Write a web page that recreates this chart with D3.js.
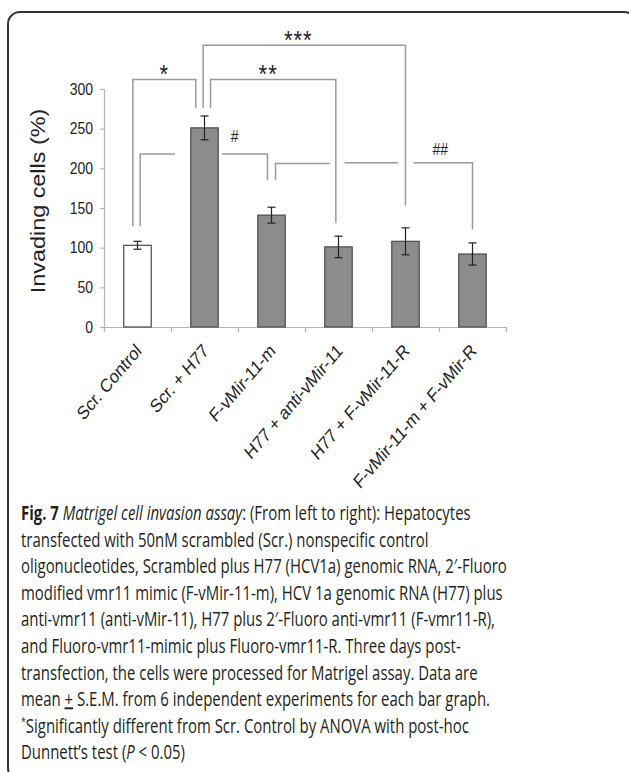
<!DOCTYPE html>
<html>
<head>
<meta charset="utf-8">
<script src="https://cdn.jsdelivr.net/npm/d3@7"></script>
<style>
  body { margin: 0; background: #fff; }
  svg { display: block; }
</style>
</head>
<body>
<script>
// data
var categories = ["Scr. Control", "Scr. + H77", "F-vMir-11-m", "H77 + anti-vMir-11", "H77 + F-vMir-11-R", "F-vMir-11-m + F-vMir-R"];
var means = [103, 251, 141, 101, 108, 92];
var sems = [5, 15, 10, 13.5, 17, 14];
var yTicks = [0, 50, 100, 150, 200, 250, 300];

// significance brackets: [category index, offset within band, value]
var brackets = [
  [[0, -0.07, 127], [0, -0.07, 312], [1, -0.13, 312], [1, -0.13, 276]],
  [[1, 0.09, 276], [1, 0.09, 312], [3, -0.04, 312], [3, -0.04, 131]],
  [[1, -0.02, 276], [1, -0.02, 355], [4, 0, 355], [4, 0, 153]],
  [[0, 0.04, 127], [0, 0.04, 218], [0, 0.56, 218]],
  [[1, 0.26, 218], [2, -0.06, 218], [2, -0.06, 185]],
  [[2, 0.06, 185], [2, 0.06, 206], [3, -0.13, 206]],
  [[3, 0.09, 207], [4, -0.11, 207]],
  [[4, 0.12, 207], [5, 0, 207], [5, 0, 123]]
];
var marks = [
  {text: "*", cat: 0, off: 0.4, v: 312, size: 22},
  {text: "**", cat: 1, off: 0.95, v: 312, size: 22},
  {text: "***", cat: 2, off: 0.4, v: 355, size: 22},
  {text: "#", cat: 1, off: 0.45, v: 229, size: 14},
  {text: "##", cat: 4, off: 0.52, v: 213, size: 14}
];

var captionLines = [
  [["Fig. 7", "b"], [" ", ""], ["Matrigel cell invasion assay", "i"], [": (From left to right): Hepatocytes", ""]],
  [["transfected with 50nM scrambled (Scr.) nonspecific control", ""]],
  [["oligonucleotides, Scrambled plus H77 (HCV1a) genomic RNA, 2\u2032-Fluoro", ""]],
  [["modified vmr11 mimic (F-vMir-11-m), HCV 1a genomic RNA (H77) plus", ""]],
  [["anti-vmr11 (anti-vMir-11), H77 plus 2\u2032-Fluoro anti-vmr11 (F-vmr11-R),", ""]],
  [["and Fluoro-vmr11-mimic plus Fluoro-vmr11-R. Three days post-", ""]],
  [["transfection, the cells were processed for Matrigel assay. Data are", ""]],
  [["mean ", ""], ["+", "u"], [" S.E.M. from 6 independent experiments for each bar graph.", ""]],
  [["*", "sup"], ["Significantly different from Scr. Control by ANOVA with post-hoc", ""]],
  [["Dunnett\u2019s test (", ""], ["P", "i"], [" < 0.05)", ""]]
];

var W = 629, H = 772;
var stretch = 1.17;
var chartFont = "'Liberation Sans', Arial, sans-serif";

var svg = d3.select("body").append("svg")
  .attr("width", W)
  .attr("height", H);

// outer frame
svg.append("rect")
  .attr("x", 8).attr("y", 12)
  .attr("width", 628).attr("height", 768)
  .attr("rx", 12)
  .attr("fill", "none")
  .attr("stroke", "#333")
  .attr("stroke-width", 2);

var x = d3.scaleBand().domain(categories).range([104, 506]).padding(0);
var xEdge = d3.scaleLinear().domain([0, categories.length]).range([104, 506]);
var y = d3.scaleLinear().domain([0, 300]).range([327, 89]);
var barW = x.bandwidth() * 0.41;

function cx(i, off) {
  return x(categories[i]) + x.bandwidth() / 2 + off * x.bandwidth();
}

// y axis
var yAxis = svg.append("g")
  .attr("transform", "translate(104,0)")
  .call(d3.axisLeft(y).tickValues(yTicks).tickSize(4).tickPadding(7));
yAxis.select(".domain").attr("stroke", "#b5b5b5").attr("stroke-width", 1.2);
yAxis.selectAll(".tick line").attr("stroke", "#b5b5b5").attr("stroke-width", 1.2);
yAxis.selectAll(".tick text")
  .attr("font-family", chartFont)
  .attr("font-size", 14)
  .attr("fill", "#222")
  .attr("transform", "scale(1," + stretch + ")");

// x axis (ticks at band edges)
var xAxis = svg.append("g")
  .attr("transform", "translate(0,327)")
  .call(d3.axisBottom(xEdge).ticks(categories.length).tickSize(5).tickFormat(""));
xAxis.select(".domain").attr("stroke", "#b5b5b5").attr("stroke-width", 1.2);
xAxis.selectAll(".tick line").attr("stroke", "#b5b5b5").attr("stroke-width", 1.2);

// bars
svg.selectAll("rect.bar")
  .data(means)
  .enter().append("rect")
  .attr("class", "bar")
  .attr("x", function(d, i) { return cx(i, 0) - barW / 2; })
  .attr("y", function(d) { return y(d); })
  .attr("width", barW)
  .attr("height", function(d) { return y(0) - y(d); })
  .attr("fill", function(d, i) { return i === 0 ? "#fff" : "#8c8c8c"; })
  .attr("stroke", "#4a4a4a")
  .attr("stroke-width", 1.2);

// error bars
var err = svg.selectAll("g.err")
  .data(means)
  .enter().append("g")
  .attr("class", "err")
  .attr("stroke", "#222")
  .attr("stroke-width", 1.2);
err.append("line")
  .attr("x1", function(d, i) { return cx(i, 0); })
  .attr("x2", function(d, i) { return cx(i, 0); })
  .attr("y1", function(d, i) { return y(d + sems[i]); })
  .attr("y2", function(d, i) { return y(d - sems[i]); });
err.append("line")
  .attr("x1", function(d, i) { return cx(i, 0) - 4; })
  .attr("x2", function(d, i) { return cx(i, 0) + 4; })
  .attr("y1", function(d, i) { return y(d + sems[i]); })
  .attr("y2", function(d, i) { return y(d + sems[i]); });
err.append("line")
  .attr("x1", function(d, i) { return cx(i, 0) - 4; })
  .attr("x2", function(d, i) { return cx(i, 0) + 4; })
  .attr("y1", function(d, i) { return y(d - sems[i]); })
  .attr("y2", function(d, i) { return y(d - sems[i]); });

// brackets
var line = d3.line()
  .x(function(p) { return cx(p[0], p[1]); })
  .y(function(p) { return y(p[2]); });
svg.selectAll("path.bracket")
  .data(brackets)
  .enter().append("path")
  .attr("class", "bracket")
  .attr("d", line)
  .attr("fill", "none")
  .attr("stroke", "#9a9a9a")
  .attr("stroke-width", 1.5);

svg.selectAll("text.mark")
  .data(marks)
  .enter().append("text")
  .attr("class", "mark")
  .attr("transform", function(d) {
    return "translate(" + cx(d.cat, d.off) + "," + (y(d.v) - 3) + ") scale(1," + stretch + ")";
  })
  .attr("text-anchor", "middle")
  .attr("font-family", chartFont)
  .attr("font-size", function(d) { return d.size; })
  .attr("dy", function(d) { return d.size > 20 ? "0.25em" : "0"; })
  .attr("fill", "#222")
  .attr("letter-spacing", function(d) { return d.size > 20 ? 1 : 0; })
  .text(function(d) { return d.text; });

// category labels
svg.selectAll("text.cat")
  .data(categories)
  .enter().append("text")
  .attr("class", "cat")
  .attr("transform", function(d, i) {
    return "translate(" + (cx(i, 0) + 5) + ",352) scale(1," + stretch + ") rotate(-45)";
  })
  .attr("text-anchor", "end")
  .attr("font-family", chartFont)
  .attr("font-size", 16)
  .attr("fill", "#222")
  .text(function(d) { return d; });

// y axis title
svg.append("text")
  .attr("transform", "translate(38,201) scale(1," + stretch + ") rotate(-90)")
  .attr("text-anchor", "middle")
  .attr("dy", "0.35em")
  .attr("font-family", chartFont)
  .attr("font-size", 20)
  .attr("fill", "#222")
  .text("Invading cells (%)");

// caption
var capFont = 17;
var cap = svg.append("g")
  .attr("font-family", "'Open Sans', 'Noto Sans', sans-serif")
  .attr("font-size", capFont)
  .attr("fill", "#231f20");

var capTexts = cap.selectAll("text")
  .data(captionLines)
  .enter().append("text")
  .attr("x", 0)
  .attr("y", 0);

capTexts.each(function(segs) {
  var t = d3.select(this);
  segs.forEach(function(s) {
    var ts = t.append("tspan").text(s[0]);
    if (s[1] === "b") ts.attr("font-weight", "bold");
    if (s[1] === "i") ts.attr("font-style", "italic");
    if (s[1] === "u") ts.style("text-decoration", "underline");
    if (s[1] === "sup") {
      ts.attr("font-size", 10).attr("dy", -7);
    }
  });
  // undo the superscript shift for the following segment
  t.selectAll("tspan").each(function(d, j, nodes) {
    if (j > 0 && segs[j - 1][1] === "sup") d3.select(this).attr("dy", 7);
  });
});

var refWidth = capTexts.nodes()[2].getComputedTextLength();
var sx = 486 / refWidth;
var sy = 14 / (0.714 * capFont);
capTexts.attr("transform", function(d, i) {
  return "translate(21," + (520 + i * 26.6) + ") scale(" + sx + "," + sy + ")";
});
</script>
</body>
</html>
